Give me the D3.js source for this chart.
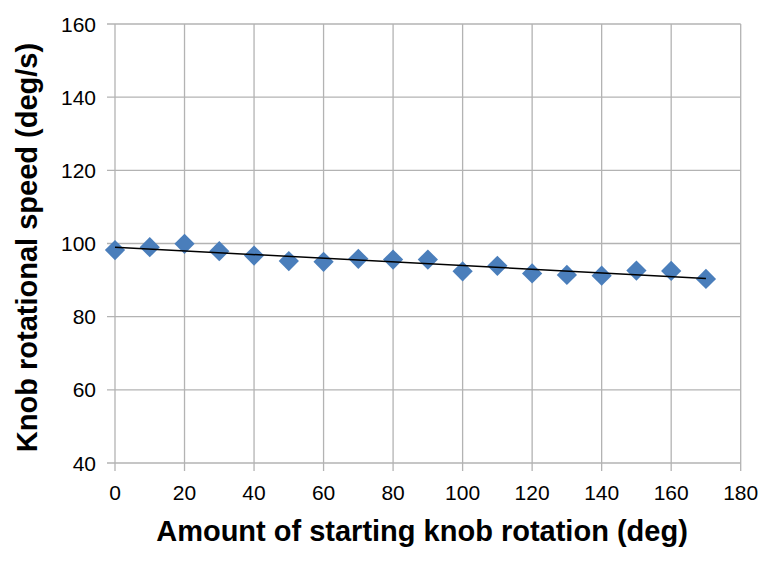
<!DOCTYPE html>
<html><head><meta charset="utf-8">
<script src="https://cdn.jsdelivr.net/npm/d3@7"></script>
<style>body{margin:0;background:#fff}svg{display:block}text{font-family:"Liberation Sans",Arial,sans-serif;fill:#000}</style>
</head><body>
<script>
const xValues = [0,10,20,30,40,50,60,70,80,90,100,110,120,130,140,150,160,170];
const speeds = [98.2,99.0,99.9,97.9,96.7,95.2,95.0,95.8,95.6,95.6,92.4,93.9,91.8,91.4,91.2,92.6,92.5,90.3];
const xTicks = [0,20,40,60,80,100,120,140,160,180];
const yTicks = [40,60,80,100,120,140,160];
const xTitle = "Amount of starting knob rotation (deg)";
const yTitle = "Knob rotational speed (deg/s)";

const W=774,H=562;
const svg=d3.select("body").append("svg").attr("width",W).attr("height",H);
const x=d3.scaleLinear().domain([0,180]).range([115,740.7]);
const y=d3.scaleLinear().domain([40,160]).range([463,24]);
const grid="#b3b3b3";

// grid lines
svg.append("g").selectAll("line").data(yTicks).join("line")
 .attr("x1",107).attr("x2",x(180)).attr("y1",d=>y(d)).attr("y2",d=>y(d))
 .attr("stroke",grid).attr("stroke-width",1.3);
svg.append("g").selectAll("line").data(xTicks).join("line")
 .attr("x1",d=>x(d)).attr("x2",d=>x(d)).attr("y1",y(160)).attr("y2",471)
 .attr("stroke",grid).attr("stroke-width",1.3);

// tick labels
svg.append("g").selectAll("text").data(yTicks).join("text")
 .attr("x",96).attr("y",d=>y(d)+7.5).attr("text-anchor","end").attr("font-size",21).text(d=>d);
svg.append("g").selectAll("text").data(xTicks).join("text")
 .attr("x",d=>x(d)).attr("y",500).attr("text-anchor","middle").attr("font-size",21).text(d=>d);

// points
const pts=xValues.map((v,i)=>({x:v,y:speeds[i]}));
svg.append("g").selectAll("path").data(pts).join("path")
 .attr("d",d3.symbol(d3.symbolSquare,205))
 .attr("transform",d=>`translate(${x(d.x)},${y(d.y)}) rotate(45)`)
 .attr("fill","#4a7ebb");

// linear trendline (least squares)
const mx=d3.mean(xValues),my=d3.mean(speeds);
const slope=d3.sum(pts,d=>(d.x-mx)*(d.y-my))/d3.sum(pts,d=>(d.x-mx)**2);
const icpt=my-slope*mx;
const x0=d3.min(xValues),x1=d3.max(xValues);
svg.append("line").attr("x1",x(x0)).attr("y1",y(icpt+slope*x0))
 .attr("x2",x(x1)).attr("y2",y(icpt+slope*x1)).attr("stroke","#000").attr("stroke-width",1.5);

// titles
svg.append("text").attr("x",422).attr("y",541).attr("text-anchor","middle")
 .attr("font-size",29).attr("font-weight","bold").text(xTitle);
svg.append("text").attr("transform",`translate(37,${(y(40)+y(160))/2+4}) rotate(-90)`)
 .attr("text-anchor","middle").attr("font-size",29).attr("font-weight","bold").text(yTitle);
</script>
</body></html>
